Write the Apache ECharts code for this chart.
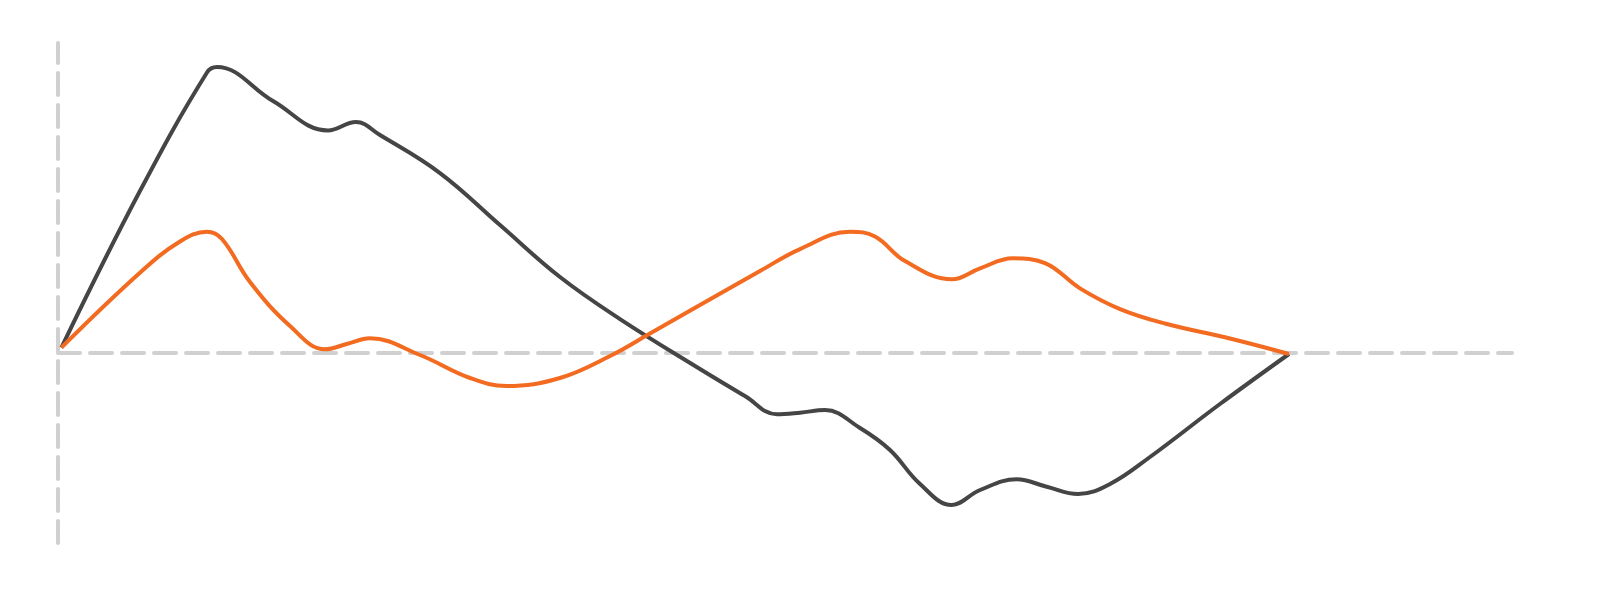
<!DOCTYPE html>
<html>
<head>
<meta charset="utf-8">
<title>chart</title>
<script src="https://cdn.jsdelivr.net/npm/echarts@6/dist/echarts.min.js"></script>
<style>
  html, body { margin: 0; padding: 0; background: #fff; }
  #main { width: 1600px; height: 600px; }
</style>
</head>
<body>
<div id="main"></div>
<script>
// values (x on a 0..118 scale, y on a -40..65 scale)
var darkX = [0.28, 6.65, 12.09, 12.90, 17.45, 21.91, 24.18, 26.13, 31.00, 35.87, 40.74, 45.61,
  52.10, 55.75, 58.33, 60.22, 62.25, 65.09, 67.52, 69.96, 72.53, 74.83, 77.80, 80.24, 82.78,
  85.38, 88.62, 94.30, 99.90];
var darkY = [1.05, 33.91, 58.80, 59.95, 52.81, 46.62, 48.40, 45.67, 37.69, 26.77, 15.85, 7.03,
  -3.46, -9.13, -12.98, -12.64, -12.07, -15.85, -20.47, -27.61, -32.02, -28.87, -26.63, -28.18, -29.71,
  -27.61, -21.94, -10.81, -0.31];

var orangeX = [0.28, 6.65, 9.90, 12.09, 13.31, 15.58, 18.83, 21.67, 23.43, 25.32, 29.38, 33.44,
  36.41, 40.74, 44.80, 48.04, 52.10, 56.97, 60.22, 64.28, 66.30, 68.74, 72.55, 74.83, 77.50,
  80.10, 82.94, 86.19, 89.84, 95.11, 99.90];
var orangeY = [1.05, 16.76, 23.31, 25.37, 23.83, 14.80, 5.56, 0.67, 1.78, 2.98, -0.52, -5.35,
  -7.03, -5.35, -0.73, 3.99, 9.97, 17.11, 21.73, 25.37, 24.36, 19.21, 15.37, 17.68, 19.78,
  18.79, 13.48, 9.13, 6.09, 2.94, -0.31];

var xMin = 0, xMax = 118;
var yMin = -40, yMax = 65;

function pairs(xs, ys) {
  var out = [];
  for (var i = 0; i < xs.length; i++) {
    out.push([xs[i], ys[i]]);
  }
  return out;
}

var chart = echarts.init(document.getElementById('main'));

var axisLineStyle = {
  color: '#d0d0d0',
  width: 4,
  type: [22, 10]
};

var option = {
  animation: false,
  backgroundColor: '#fff',
  grid: {
    left: 58,
    right: 88,
    top: 43,
    bottom: 57,
    containLabel: false
  },
  xAxis: {
    type: 'value',
    min: xMin,
    max: xMax,
    axisLine: { show: true, onZero: true, lineStyle: axisLineStyle },
    axisTick: { show: false },
    axisLabel: { show: false },
    splitLine: { show: false }
  },
  yAxis: {
    type: 'value',
    min: yMin,
    max: yMax,
    axisLine: { show: true, onZero: true, lineStyle: axisLineStyle },
    axisTick: { show: false },
    axisLabel: { show: false },
    splitLine: { show: false }
  },
  series: [{
    name: 'dark',
    type: 'line',
    smooth: 0.4,
    symbol: 'none',
    lineStyle: { color: '#454545', width: 4 },
    data: pairs(darkX, darkY)
  }, {
    name: 'orange',
    type: 'line',
    smooth: 0.4,
    symbol: 'none',
    lineStyle: { color: '#f26b21', width: 4 },
    data: pairs(orangeX, orangeY)
  }]
};

chart.setOption(option);
</script>
</body>
</html>
